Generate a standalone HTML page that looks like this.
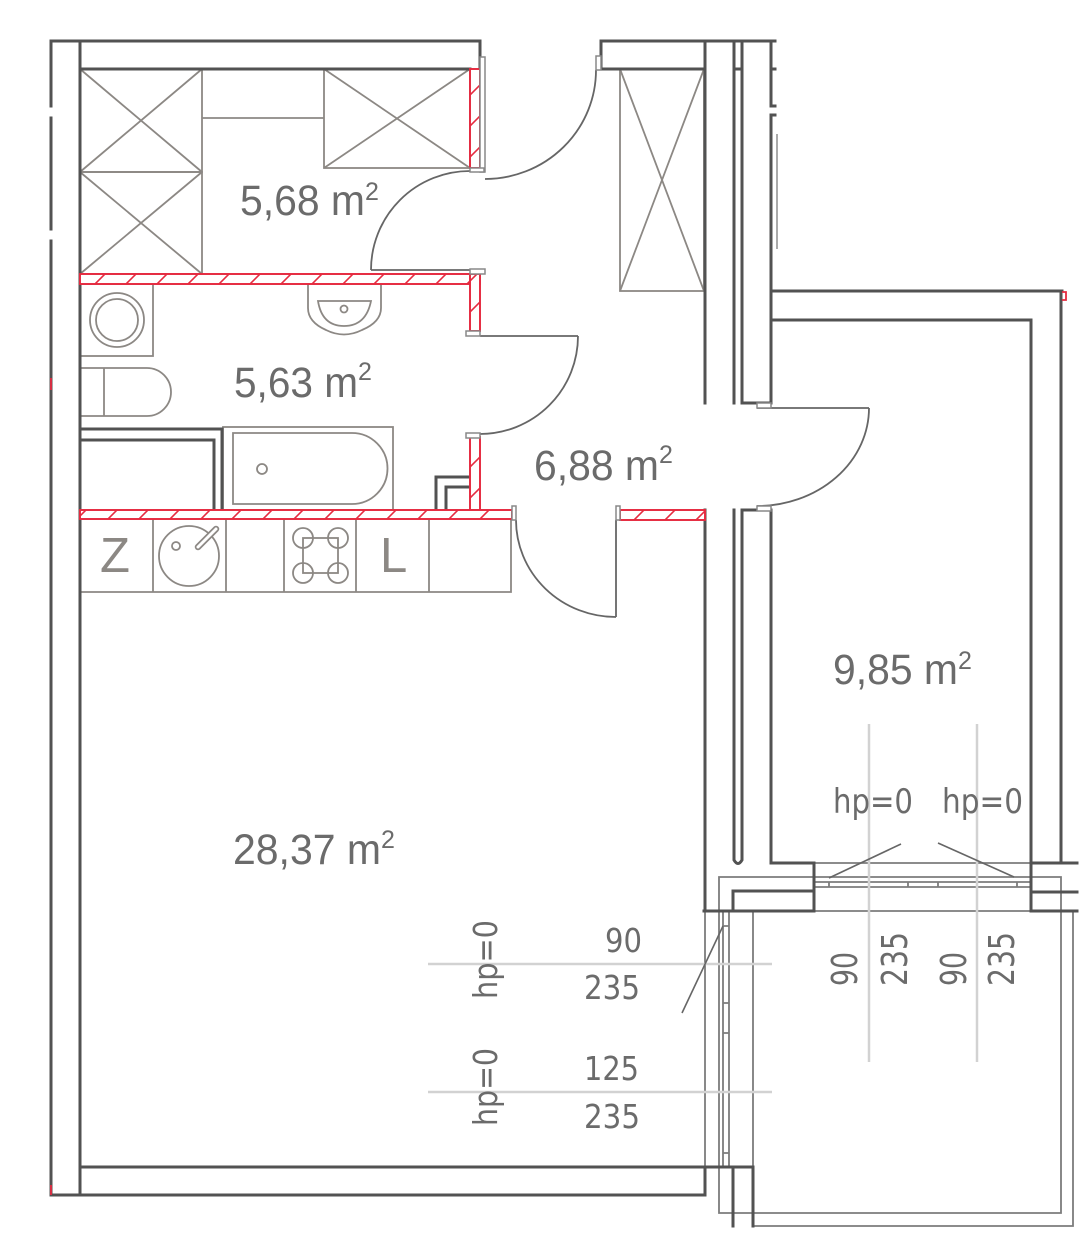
<!DOCTYPE html>
<html><head><meta charset="utf-8"><style>
html,body{margin:0;padding:0;background:#fff;}
svg{display:block;}
</style></head><body>
<svg width="1092" height="1239" viewBox="0 0 1092 1239" xmlns="http://www.w3.org/2000/svg">
<defs>
<pattern id="h" patternUnits="userSpaceOnUse" width="31" height="31" patternTransform="translate(7,0)">
<path d="M0,31 L31,0 M-3,3 L3,-3 M28,34 L34,28" stroke="#e52b40" stroke-width="1.6" fill="none"/>
</pattern>
</defs>
<rect width="1092" height="1239" fill="#fff"/>

<!-- furniture (gray) -->
<g stroke="#8c8884" stroke-width="1.8" fill="none">
<!-- closets top left -->
<rect x="80" y="69" width="122" height="103"/>
<path d="M80,69 L202,172 M202,69 L80,172"/>
<rect x="80" y="172" width="122" height="102"/>
<path d="M80,172 L202,274 M202,172 L80,274"/>
<path d="M202,118 H324"/>
<rect x="324" y="69" width="146" height="99"/>
<path d="M324,69 L470,168 M470,69 L324,168"/>
<!-- closet hallway -->
<rect x="620" y="69" width="84" height="222"/>
<path d="M620,69 L704,291 M704,69 L620,291"/>
<!-- washer -->
<rect x="80" y="284" width="73" height="72"/>
<circle cx="117" cy="320" r="27"/>
<circle cx="117" cy="320" r="21"/>
<!-- toilet -->
<path d="M80,368 H147 A24,24 0 0 1 147,416 H80"/>
<path d="M104,368 V416"/>
<!-- sink -->
<path d="M308,284 V308 Q308,322 326,330 Q344,339 362,330 Q381,322 381,308 V284"/>
<path d="M318,301 H371 Q366,326 344,326 Q322,326 318,301 Z"/>
<circle cx="344" cy="309" r="3.5"/>
<!-- bathtub -->
<rect x="223" y="427" width="170" height="83"/>
<path d="M233,433 H352 A35.5,35.5 0 0 1 352,504 H233 Z"/>
<circle cx="262" cy="469" r="5"/>
<!-- kitchen -->
<path d="M80,592 H511 V519"/>
<path d="M153,519 V592 M226,519 V592 M284,519 V592 M356,519 V592 M429,519 V592"/>
<circle cx="189" cy="556" r="30"/>
<circle cx="176" cy="546" r="4"/>
<rect x="303" y="538" width="35" height="35"/>
<circle cx="303" cy="538" r="10"/>
<circle cx="338" cy="538" r="10"/>
<circle cx="303" cy="573" r="10"/>
<circle cx="338" cy="573" r="10"/>
</g>
<line x1="198" y1="547" x2="216" y2="529" stroke="#8c8884" stroke-width="6.5" stroke-linecap="round"/>
<line x1="198" y1="547" x2="216" y2="529" stroke="#fff" stroke-width="3" stroke-linecap="round"/>
<text x="100" y="572" font-family="Liberation Sans, sans-serif" font-size="49" fill="#8c8884">Z</text>
<text x="380" y="572" font-family="Liberation Sans, sans-serif" font-size="49" fill="#8c8884">L</text>

<!-- balcony & windows -->
<g stroke="#7c7c7c" stroke-width="1.8" fill="none">
<path d="M719,1213 V877 H1061 V1213 Z"/>
<path d="M753,911 V1226 H1073 V911"/>
<path d="M814,911 H1032 M814,863 H1032 M814,882 H1032 M814,887 H1032"/>
<path d="M829,882 V887 M908,882 V887 M938,882 V887 M1017,882 V887"/>
<path d="M723,911 V1167 M729,911 V1167"/>
<path d="M723,926 H729 M723,1003 H729 M723,1033 H729 M723,1153 H729"/>
<path d="M705,911 V1167"/>
</g>
<line x1="777" y1="134" x2="777" y2="249" stroke="#aaa" stroke-width="2"/>

<!-- walls (dark) -->
<g stroke="#525252" stroke-width="3" fill="none" stroke-linecap="square">
<path d="M51,41 V106 M51,118 V229 M51,241 V1195"/>
<path d="M80,41 V1195"/>
<path d="M51,41 H480 V69"/>
<path d="M80,69 H470"/>
<path d="M51,1195 H705"/>
<path d="M80,1167 H753"/>
<path d="M601,41 H775"/>
<path d="M601,41 V69 H705"/>
<path d="M705,41 V403"/>
<path d="M705,510 V911 M705,1167 V1195"/>
<path d="M734,41 V403 M742,41 V403 H771"/>
<path d="M734,69 H742"/>
<path d="M771,41 V106 H775 M771,69 H775 M775,115 H771 V403"/>
<path d="M742,510 H771"/>
<path d="M734,510 V860 Q738,867 742,860 V510"/>
<path d="M771,510 V863 H814 V911"/>
<path d="M771,291 H1062"/>
<path d="M771,320 H1031 V911"/>
<path d="M1061,291 V863"/>
<path d="M1032,863 H1077 M1032,892 H1077 M1032,911 H1077"/>
<path d="M704,911 H814"/>
<path d="M733,911 V891 H814"/>
<path d="M733,1167 V1226"/>
<path d="M753,1167 V1226"/>
<!-- bathroom dark -->
<path d="M80,429 H222 V510"/>
<path d="M80,440 H214 V510"/>
<path d="M436,510 V477 H470 M446,510 V487 H470"/>
</g>

<!-- red hatched walls -->
<g stroke="#e52b40" stroke-width="1.8">
<rect x="470" y="69" width="10" height="99" fill="#fff"/>
<rect x="470" y="69" width="10" height="99" fill="url(#h)"/>
<rect x="80" y="274" width="400" height="10" fill="#fff"/>
<rect x="80" y="274" width="400" height="10" fill="url(#h)"/>
<rect x="470" y="274" width="10" height="57" fill="#fff"/>
<rect x="470" y="274" width="10" height="57" fill="url(#h)"/>
<rect x="470" y="437" width="10" height="73" fill="#fff"/>
<rect x="470" y="437" width="10" height="73" fill="url(#h)"/>
<rect x="80" y="510" width="432" height="9" fill="#fff"/>
<rect x="80" y="510" width="432" height="9" fill="url(#h)"/>
<rect x="620" y="510" width="85" height="10" fill="#fff"/>
<rect x="620" y="510" width="85" height="10" fill="url(#h)"/>
<path d="M1062,292 H1066 V300 H1062" fill="none"/>
<path d="M51,378 V390 M51,1185 V1195" fill="none"/>
</g>

<!-- doors -->
<g stroke="#666" stroke-width="1.8" fill="none">
<path d="M371,270 A99,99 0 0 1 470,171"/>
<path d="M371,270 H484"/>
<path d="M485,179 A111,109 0 0 0 596,70"/>
<path d="M480,336 H578"/>
<path d="M578,336 A98,98 0 0 1 480,434"/>
<path d="M516,520 A100,97 0 0 0 616,617"/>
<path d="M616,520 V617"/>
<path d="M757,408 H869"/>
<path d="M869,408 A112,98 0 0 1 757,506"/>
</g>
<g stroke="#888" stroke-width="1.5" fill="#fff">
<rect x="480" y="57" width="5" height="115"/>
<rect x="596" y="56" width="5" height="14"/>
<rect x="470" y="168" width="14" height="4"/>
<rect x="470" y="269" width="15" height="5"/>
<rect x="466" y="331" width="14" height="5"/>
<rect x="466" y="433" width="14" height="5"/>
<rect x="512" y="506" width="4" height="14"/>
<rect x="616" y="506" width="4" height="14"/>
<rect x="757" y="403" width="14" height="5"/>
<rect x="757" y="506" width="14" height="5"/>
</g>

<!-- dimension lines -->
<g stroke="#d2d2d2" stroke-width="2.5">
<line x1="428" y1="964" x2="772" y2="964"/>
<line x1="428" y1="1092" x2="772" y2="1092"/>
<line x1="869" y1="724" x2="869" y2="1062"/>
<line x1="977" y1="724" x2="977" y2="1062"/>
</g>
<g stroke="#666" stroke-width="1.6">
<line x1="682" y1="1013" x2="723" y2="926"/>
<line x1="829" y1="878" x2="901" y2="844"/>
<line x1="938" y1="843" x2="1014" y2="877"/>
</g>

<!-- area labels -->
<g font-family="Liberation Sans, Arial, sans-serif" fill="#6b6b6b">
<text x="240" y="215" font-size="43" textLength="125" lengthAdjust="spacingAndGlyphs">5,68 m</text>
<text x="365" y="200" font-size="25">2</text>
<text x="234" y="397" font-size="43" textLength="124" lengthAdjust="spacingAndGlyphs">5,63 m</text>
<text x="358" y="380" font-size="25">2</text>
<text x="534" y="480" font-size="43" textLength="125" lengthAdjust="spacingAndGlyphs">6,88 m</text>
<text x="659" y="463" font-size="25">2</text>
<text x="833" y="684" font-size="43" textLength="125" lengthAdjust="spacingAndGlyphs">9,85 m</text>
<text x="958" y="669" font-size="25">2</text>
<text x="233" y="864" font-size="43" textLength="148" lengthAdjust="spacingAndGlyphs">28,37 m</text>
<text x="381" y="848" font-size="25">2</text>
</g>

<!-- dimension texts -->
<g font-family="DejaVu Sans, Liberation Sans, sans-serif" fill="#6b6b6b">
<text x="833" y="813" font-size="34" textLength="80" lengthAdjust="spacingAndGlyphs">hp=0</text>
<text x="942" y="813" font-size="34" textLength="81" lengthAdjust="spacingAndGlyphs">hp=0</text>
<text x="605" y="952" font-size="33" textLength="37" lengthAdjust="spacingAndGlyphs">90</text>
<text x="584" y="999" font-size="33" textLength="56" lengthAdjust="spacingAndGlyphs">235</text>
<text x="584" y="1080" font-size="33" textLength="55" lengthAdjust="spacingAndGlyphs">125</text>
<text x="584" y="1128" font-size="33" textLength="56" lengthAdjust="spacingAndGlyphs">235</text>
<text transform="translate(497,999) rotate(-90)" font-size="33" textLength="79" lengthAdjust="spacingAndGlyphs">hp=0</text>
<text transform="translate(497,1126) rotate(-90)" font-size="33" textLength="78" lengthAdjust="spacingAndGlyphs">hp=0</text>
<text transform="translate(857,986) rotate(-90)" font-size="36" textLength="34" lengthAdjust="spacingAndGlyphs">90</text>
<text transform="translate(907,986) rotate(-90)" font-size="36" textLength="54" lengthAdjust="spacingAndGlyphs">235</text>
<text transform="translate(966,986) rotate(-90)" font-size="36" textLength="34" lengthAdjust="spacingAndGlyphs">90</text>
<text transform="translate(1014,986) rotate(-90)" font-size="36" textLength="54" lengthAdjust="spacingAndGlyphs">235</text>
</g>
</svg>
</body></html>
